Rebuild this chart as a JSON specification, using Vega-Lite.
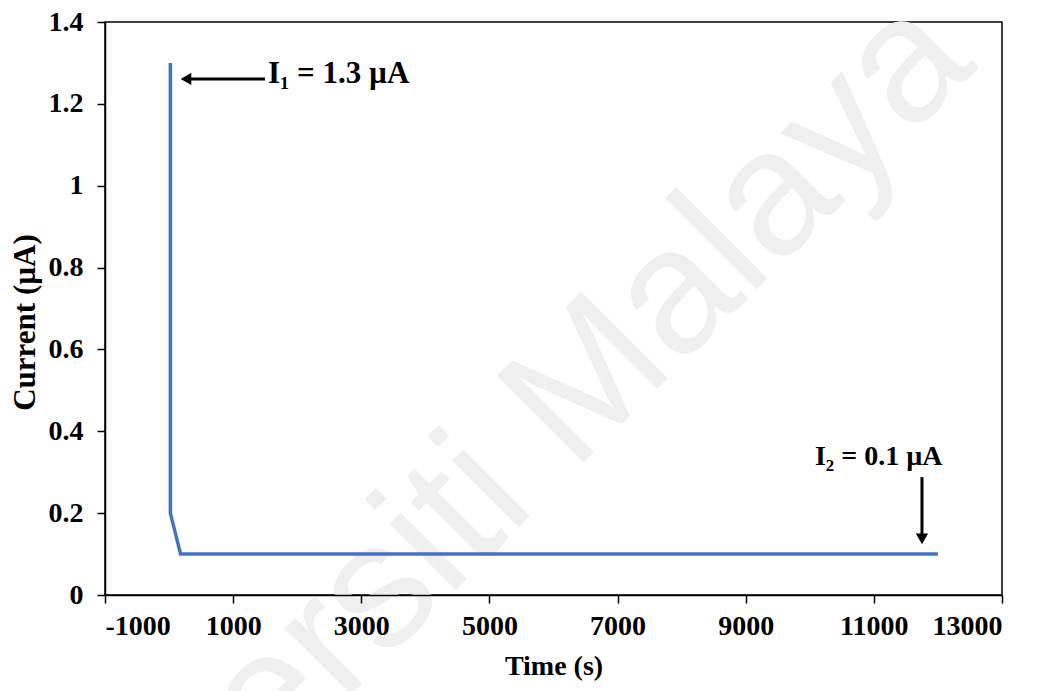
{
  "$schema": "https://vega.github.io/schema/vega-lite/v6.json",
  "width": 897,
  "height": 573,
  "autosize": "none",
  "padding": {"left": 105, "top": 22, "right": 45, "bottom": 96},
  "background": "white",
  "config": {
    "view": {"stroke": "black", "strokeWidth": 1.5},
    "axis": {
      "domainColor": "black",
      "domainWidth": 1.5,
      "tickColor": "black",
      "tickWidth": 1.5,
      "tickSize": 8,
      "grid": false,
      "labelFont": "Liberation Serif",
      "labelFontWeight": "bold",
      "labelColor": "black",
      "titleFont": "Liberation Serif",
      "titleFontWeight": "bold",
      "titleColor": "black"
    }
  },
  "datasets": {
    "series": [
      {"time": 20, "current": 1.3},
      {"time": 20, "current": 0.2},
      {"time": 180, "current": 0.1},
      {"time": 2000, "current": 0.1},
      {"time": 4000, "current": 0.1},
      {"time": 6000, "current": 0.1},
      {"time": 8000, "current": 0.1},
      {"time": 10000, "current": 0.1},
      {"time": 12000, "current": 0.1}
    ],
    "watermark": [
      {"time": 12641, "current": 1.29, "label": "Universiti Malaya"}
    ],
    "arrows": [
      {"time": 1497, "current": 1.261, "time2": 327, "current2": 1.261},
      {"time": 11751, "current": 0.288, "time2": 11751, "current2": 0.147}
    ],
    "heads": [
      {"time": 264, "current": 1.261, "shape": "triangle-left"},
      {"time": 11751, "current": 0.137, "shape": "triangle-down"}
    ],
    "notes": [
      {"time": 1544, "current": 1.251, "label": "I₁ = 1.3 µA", "size": 31},
      {"time": 10081, "current": 0.318, "label": "I₂ = 0.1 µA", "size": 28}
    ]
  },
  "layer": [
    {
      "data": {"name": "watermark"},
      "mark": {"type": "text", "angle": -45, "align": "right", "baseline": "alphabetic", "font": "Liberation Sans", "fontSize": 178, "color": "#efefef", "zindex": 0},
      "encoding": {
        "x": {"field": "time", "type": "quantitative"},
        "y": {"field": "current", "type": "quantitative"},
        "text": {"field": "label"}
      }
    },
    {
      "data": {"name": "series"},
      "mark": {"type": "line", "color": "#4472C4", "strokeWidth": 3.5},
      "encoding": {
        "x": {
          "field": "time", "type": "quantitative",
          "scale": {"domain": [-1000, 13000], "nice": false, "zero": false},
          "axis": {
            "title": "Time (s)",
            "zindex": 2,
            "values": [-1000, 1000, 3000, 5000, 7000, 9000, 11000, 13000],
            "labelExpr": "'' + datum.value",
            "labelFontSize": 28,
            "titleFontSize": 28,
            "labelPadding": 9,
            "titlePadding": 12
          }
        },
        "y": {
          "field": "current", "type": "quantitative",
          "scale": {"domain": [0, 1.4], "nice": false},
          "axis": {
            "title": "Current (µA)",
            "zindex": 2,
            "values": [0, 0.2, 0.4, 0.6, 0.8, 1, 1.2, 1.4],
            "format": "~g",
            "labelFontSize": 28,
            "titleFontSize": 31,
            "labelPadding": 14,
            "titlePadding": 7,
            "titleY": 300
          }
        }
      }
    },
    {
      "data": {"name": "arrows"},
      "mark": {"type": "rule", "color": "black", "strokeWidth": 3},
      "encoding": {
        "x": {"field": "time", "type": "quantitative"},
        "y": {"field": "current", "type": "quantitative"},
        "x2": {"field": "time2"},
        "y2": {"field": "current2"}
      }
    },
    {
      "data": {"name": "heads"},
      "mark": {"type": "point", "filled": true, "color": "black", "size": 150, "opacity": 1},
      "encoding": {
        "x": {"field": "time", "type": "quantitative"},
        "y": {"field": "current", "type": "quantitative"},
        "shape": {"field": "shape", "type": "nominal", "scale": null}
      }
    },
    {
      "data": {"name": "notes"},
      "mark": {"type": "text", "align": "left", "baseline": "alphabetic", "font": "Liberation Serif", "fontWeight": "bold", "color": "black"},
      "encoding": {
        "x": {"field": "time", "type": "quantitative"},
        "y": {"field": "current", "type": "quantitative"},
        "text": {"field": "label"},
        "size": {"field": "size", "type": "quantitative", "scale": null}
      }
    }
  ]
}
